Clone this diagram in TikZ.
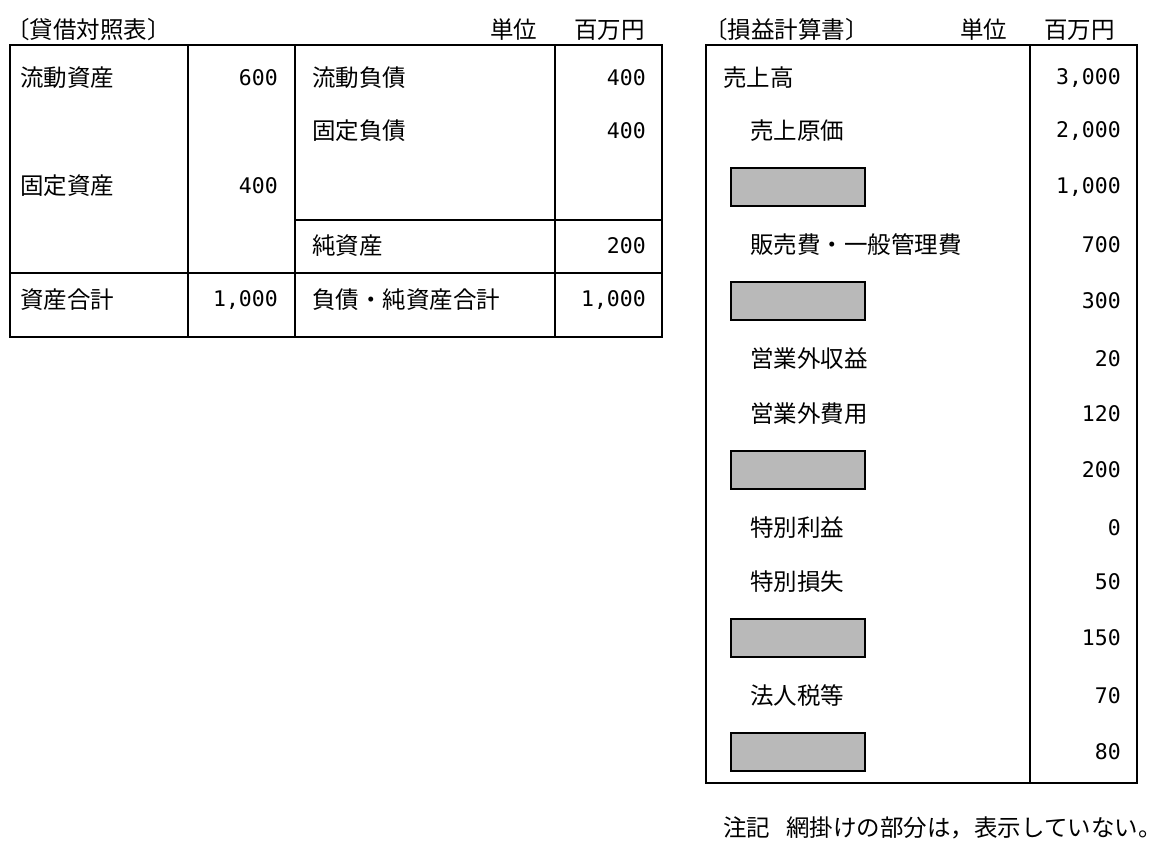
\documentclass[tikz,border=0pt]{standalone}
\usepackage{fontspec}
\setmainfont{Noto Sans CJK JP}
\newfontfamily\numf{DejaVu Sans Mono}
\begin{document}
\begin{tikzpicture}[x=1pt,y=-1pt,
  lab/.style={anchor=west,font=\fontsize{23.5}{25}\selectfont,inner sep=0},
  num/.style={anchor=east,font=\numf\fontsize{21.5}{24}\selectfont,inner sep=0},
  frame/.style={line width=1.3pt},
  gray/.style={fill=gray!55,draw=black,line width=2pt}]
\useasboundingbox (0,0) rectangle (1168,856);
% Balance sheet
\node[lab] (bsh) at (6,30) {〔貸借対照表〕};
\node[lab] (bsu) at (490,30) {単位};
\node[lab] (bsy) at (574,30) {百万円};
\draw[frame] (10,45) rectangle (662,337);
\draw[frame] (188,45) -- (188,337);
\draw[frame] (295,45) -- (295,337);
\draw[frame] (555,45) -- (555,337);
\draw[frame] (295,220) -- (662,220);
\draw[frame] (10,273) -- (662,273);
\node[lab] (a1) at (20,78) {流動資産}; \node[num] (a1v) at (278,78) {600};
\node[lab] (a2) at (20,186) {固定資産}; \node[num] (a2v) at (278,186) {400};
\node[lab] (a3) at (20,300) {資産合計}; \node[num] (a3v) at (278,300) {1,000};
\node[lab] (l1) at (312,78) {流動負債}; \node[num] (l1v) at (646,78) {400};
\node[lab] (l2) at (312,131) {固定負債}; \node[num] (l2v) at (646,131) {400};
\node[lab] (l3) at (312,246) {純資産}; \node[num] (l3v) at (646,246) {200};
\node[lab] (l4) at (312,300) {負債・純資産合計}; \node[num] (l4v) at (646,300) {1,000};
% P/L
\node[lab] (plh) at (704,30) {〔損益計算書〕};
\node[lab] (plu) at (960,30) {単位};
\node[lab] (ply) at (1044,30) {百万円};
\draw[frame] (706,45) rectangle (1137,783);
\draw[frame] (1030,45) -- (1030,783);
\node[lab] (p1) at (723,78) {売上高}; \node[num] (p1v) at (1121,78) {3,000};
\node[lab] (p2) at (750,131) {売上原価}; \node[num] (p2v) at (1121,131) {2,000};
\node[gray,minimum width=134,minimum height=38] (g1) at (798,187) {}; \node[num] (p3v) at (1121,187) {1,000};
\node[lab] (p4) at (750,245) {販売費・一般管理費}; \node[num] (p4v) at (1121,245) {700};
\node[gray,minimum width=134,minimum height=38] (g2) at (798,301) {}; \node[num] (p5v) at (1121,301) {300};
\node[lab] (p6) at (750,359) {営業外収益}; \node[num] (p6v) at (1121,359) {20};
\node[lab] (p7) at (750,414) {営業外費用}; \node[num] (p7v) at (1121,414) {120};
\node[gray,minimum width=134,minimum height=38] (g3) at (798,470) {}; \node[num] (p8v) at (1121,470) {200};
\node[lab] (p9) at (750,528) {特別利益}; \node[num] (p9v) at (1121,528) {0};
\node[lab] (p10) at (750,582) {特別損失}; \node[num] (p10v) at (1121,582) {50};
\node[gray,minimum width=134,minimum height=38] (g4) at (798,638) {}; \node[num] (p11v) at (1121,638) {150};
\node[lab] (p12) at (750,696) {法人税等}; \node[num] (p12v) at (1121,696) {70};
\node[gray,minimum width=134,minimum height=38] (g5) at (798,752) {}; \node[num] (p13v) at (1121,752) {80};
\node[lab,anchor=east] (note) at (1162,828) {注記\hspace{0.7em}網掛けの部分は，表示していない。};
\end{tikzpicture}
\end{document}
